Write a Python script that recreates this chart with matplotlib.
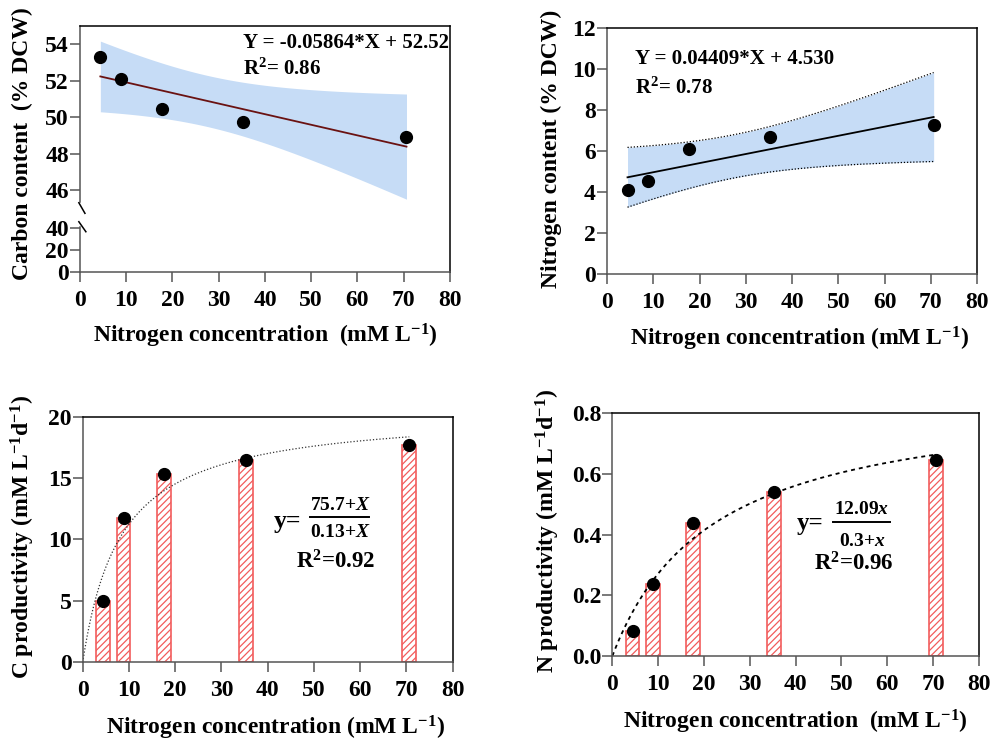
import numpy as np
import matplotlib
matplotlib.use('Agg')
import matplotlib.pyplot as plt

# nitrogen concentration in the medium (mM L-1)
n_conc = [4.41, 8.82, 17.65, 35.3, 70.6]

# biomass composition (% DCW)
carbon_content = [53.3, 52.1, 50.45, 49.75, 48.9]
nitrogen_content = [4.1, 4.56, 6.1, 6.68, 7.25]

# productivities (mM L-1 d-1)
c_productivity = [5.0, 11.75, 15.35, 16.45, 17.65]
n_productivity = [0.082, 0.236, 0.44, 0.542, 0.647]

c_yticks = [0, 20, 40, 46, 48, 50, 52, 54]
n_yticks = [0, 2, 4, 6, 8, 10, 12]
cp_yticks = [0, 5, 10, 15, 20]
np_yticks = [0.0, 0.2, 0.4, 0.6, 0.8]
x_ticks = list(range(0, 81, 10))

T95 = 3.182  # t value, 3 degrees of freedom

plt.rcParams['font.family'] = 'Liberation Serif'
plt.rcParams['font.weight'] = 'bold'
plt.rcParams['axes.labelweight'] = 'bold'
plt.rcParams['mathtext.fontset'] = 'custom'
plt.rcParams['mathtext.rm'] = 'Liberation Serif:bold'
plt.rcParams['mathtext.bf'] = 'Liberation Serif:bold'
plt.rcParams['mathtext.it'] = 'Liberation Serif:bold:italic'
plt.rcParams['hatch.linewidth'] = 0.9

GRAY = '#555555'
BAND = '#c6dcf6'
RED = '#f25c5c'
LBL = 17
TCK = 17


def lin_fit(x, y):
    x = np.asarray(x, float)
    y = np.asarray(y, float)
    b, a = np.polyfit(x, y, 1)
    xs = np.linspace(x.min(), x.max(), 200)
    yhat = a + b * xs
    res = y - (a + b * x)
    s = np.sqrt(np.sum(res ** 2) / (len(x) - 2))
    sxx = np.sum((x - x.mean()) ** 2)
    half = T95 * s * np.sqrt(1.0 / len(x) + (xs - x.mean()) ** 2 / sxx)
    return xs, yhat, yhat - half, yhat + half


def mm_fit(x, y):
    # least squares y = V*x/(K+x), grid over K
    x = np.asarray(x, float)
    y = np.asarray(y, float)
    ks = np.linspace(0.1, 100, 20000)
    F = x[None, :] / (ks[:, None] + x[None, :])
    V = (F @ y) / (F ** 2).sum(1)
    sse = ((y[None, :] - V[:, None] * F) ** 2).sum(1)
    i = np.argmin(sse)
    xs = np.linspace(0, x.max(), 300)
    return xs, V[i] * xs / (ks[i] + xs)


def style(ax):
    for s in ['left', 'bottom']:
        ax.spines[s].set_color(GRAY)
        ax.spines[s].set_linewidth(1.1)
    for s in ['top', 'right']:
        ax.spines[s].set_color('black')
        ax.spines[s].set_linewidth(1.1)
    ax.tick_params(direction='out', length=7, width=1.1, color=GRAY,
                   labelsize=TCK)
    ax.tick_params(axis='x', pad=6)
    ax.tick_params(axis='y', pad=1.0)
    ax.set_xlim(0, 80)
    ax.set_xticks(x_ticks)


# broken y axis for carbon content: piecewise linear scale
y_knots = np.array([0, 41.2, 45.36, 55])
p_knots = np.array([0, 45.3, 70.3, 246])


def pw(v, xp, fp):
    v = np.asarray(v, float)
    out = np.interp(v, xp, fp)
    lo_s = (fp[1] - fp[0]) / (xp[1] - xp[0])
    hi_s = (fp[-1] - fp[-2]) / (xp[-1] - xp[-2])
    out = np.where(v < xp[0], fp[0] + (v - xp[0]) * lo_s, out)
    out = np.where(v > xp[-1], fp[-1] + (v - xp[-1]) * hi_s, out)
    return out


def fwd(v):
    return pw(v, y_knots, p_knots)


def inv(v):
    return pw(v, p_knots, y_knots)


fig = plt.figure(figsize=(9.92, 7.4), dpi=100)

# ---- panel 1: carbon content
ax1 = fig.add_axes([0.0806, 0.6324, 0.373, 0.3324])
style(ax1)
ax1.set_yscale('function', functions=(fwd, inv))
ax1.set_ylim(0, 55)
ax1.set_yticks(c_yticks)
ax1.set_yticklabels([str(t) for t in c_yticks])
xs, yh, lo, hi = lin_fit(n_conc, carbon_content)
ax1.fill_between(xs, lo, hi, color=BAND, lw=0, zorder=1)
ax1.plot(xs, yh, color='#6a1212', lw=1.3, zorder=2)
ax1.plot(n_conc, carbon_content, 'o', color='black', ms=8.5, zorder=3)
ax1.spines['left'].set_visible(False)
ax1.plot([0, 0], [0, 0.184], transform=ax1.transAxes, color=GRAY, lw=1.1,
         clip_on=False)
ax1.plot([0, 0], [0.2858, 1], transform=ax1.transAxes, color=GRAY, lw=1.1,
         clip_on=False)
ax1.plot([-0.003, 0.0135], [0.2817, 0.2386], transform=ax1.transAxes,
         color='black', lw=1.1, clip_on=False)
ax1.plot([-0.003, 0.016], [0.2045, 0.1638], transform=ax1.transAxes,
         color='black', lw=1.1, clip_on=False)
ax1.text(0.441, 0.909, 'Y = -0.05864*X + 52.52', transform=ax1.transAxes,
         fontsize=15, va='baseline', ha='left')
ax1.text(0.441, 0.801, r'R$^{2}$= 0.86', transform=ax1.transAxes,
         fontsize=15, va='baseline', ha='left')
ax1.set_ylabel('Carbon content  (% DCW)', fontsize=LBL)
ax1.set_xlabel(r'Nitrogen concentration  (mM L$^{-1}$)', fontsize=LBL)
ax1.yaxis.set_label_coords(-0.126, 0.522)
ax1.xaxis.set_label_coords(0.5, -0.203)
ax1.xaxis.label.set_va('top')

# ---- panel 2: nitrogen content
ax2 = fig.add_axes([0.612, 0.6297, 0.373, 0.3324])
style(ax2)
ax2.set_ylim(0, 12)
ax2.set_yticks(n_yticks)
xs, yh, lo, hi = lin_fit(n_conc, nitrogen_content)
ax2.fill_between(xs, lo, hi, color=BAND, lw=0, zorder=1)
ax2.plot(xs, lo, color='black', lw=0.9, ls=(0, (1, 1.5)), zorder=2)
ax2.plot(xs, hi, color='black', lw=0.9, ls=(0, (1, 1.5)), zorder=2)
ax2.plot(xs, yh, color='black', lw=1.3, zorder=2)
ax2.plot(n_conc, nitrogen_content, 'o', color='black', ms=8.5, zorder=3)
ax2.text(0.0757, 0.852, 'Y = 0.04409*X + 4.530', transform=ax2.transAxes,
         fontsize=15, va='baseline', ha='left')
ax2.text(0.0757, 0.732, r'R$^{2}$= 0.78', transform=ax2.transAxes,
         fontsize=15, va='baseline', ha='left')
ax2.set_ylabel('Nitrogen content (% DCW)', fontsize=LBL)
ax2.set_xlabel(r'Nitrogen concentration (mM L$^{-1}$)', fontsize=LBL)
ax2.yaxis.set_label_coords(-0.122, 0.51)
ax2.xaxis.set_label_coords(0.52, -0.207)
ax2.xaxis.label.set_va('top')

# ---- panel 3: C productivity
ax3 = fig.add_axes([0.0834, 0.105, 0.373, 0.332])
style(ax3)
ax3.set_ylim(0, 20)
ax3.set_yticks(cp_yticks)
ax3.bar(n_conc, c_productivity, width=3.0, color='white', edgecolor=RED,
        hatch='/////', lw=1.2, zorder=1)
xs, ys = mm_fit(n_conc, c_productivity)
ax3.plot(xs, ys, color='#333333', lw=0.9, ls=(0, (1, 1.6)), zorder=2)
ax3.plot(n_conc, c_productivity, 'o', color='black', ms=8.5, zorder=3)
ax3.text(0.515, 0.572, 'y=', transform=ax3.transAxes, fontsize=18.5,
         va='center', ha='left')
ax3.text(0.695, 0.618, r'75.7+$\mathit{X}$', transform=ax3.transAxes,
         fontsize=14, va='baseline', ha='center')
ax3.plot([0.614, 0.775], [0.593, 0.593], transform=ax3.transAxes,
         color='black', lw=1.4)
ax3.text(0.695, 0.512, r'0.13+$\mathit{X}$', transform=ax3.transAxes,
         fontsize=14, va='baseline', ha='center')
ax3.text(0.684, 0.38, r'R$^{2}$=0.92', transform=ax3.transAxes,
         fontsize=16.5, va='baseline', ha='center')
ax3.set_ylabel(r'C productivity (mM L$^{-1}$d$^{-1}$)', fontsize=LBL)
ax3.set_xlabel(r'Nitrogen concentration (mM L$^{-1}$)', fontsize=LBL)
ax3.yaxis.set_label_coords(-0.124, 0.511)
ax3.xaxis.set_label_coords(0.52, -0.208)
ax3.xaxis.label.set_va('top')

# ---- panel 4: N productivity
ax4 = fig.add_axes([0.6173, 0.1135, 0.3694, 0.328])
style(ax4)
ax4.set_ylim(0, 0.8)
ax4.set_yticks(np_yticks)
ax4.set_yticklabels(['%.1f' % t for t in np_yticks])
ax4.bar(n_conc, n_productivity, width=3.0, color='white', edgecolor=RED,
        hatch='/////', lw=1.2, zorder=1)
xs, ys = mm_fit(n_conc, n_productivity)
ax4.plot(xs, ys, color='black', lw=1.3, ls=(0, (2.2, 2.2)), zorder=2)
ax4.plot(n_conc, n_productivity, 'o', color='black', ms=8.5, zorder=3)
ax4.text(0.503, 0.544, 'y=', transform=ax4.transAxes, fontsize=18,
         va='center', ha='left')
ax4.text(0.681, 0.585, r'12.09$\mathit{x}$', transform=ax4.transAxes,
         fontsize=14, va='baseline', ha='center')
ax4.plot([0.603, 0.759], [0.551, 0.551], transform=ax4.transAxes,
         color='black', lw=1.4)
ax4.text(0.681, 0.455, r'0.3+$\mathit{x}$', transform=ax4.transAxes,
         fontsize=14, va='baseline', ha='center')
ax4.text(0.658, 0.354, r'R$^{2}$=0.96', transform=ax4.transAxes,
         fontsize=16.5, va='baseline', ha='center')
ax4.set_ylabel(r'N productivity (mM L$^{-1}$d$^{-1}$)', fontsize=LBL)
ax4.set_xlabel(r'Nitrogen concentration  (mM L$^{-1}$)', fontsize=LBL)
ax4.yaxis.set_label_coords(-0.138, 0.516)
ax4.xaxis.set_label_coords(0.50, -0.215)
ax4.xaxis.label.set_va('top')

fig.savefig('out.png', dpi=100)
